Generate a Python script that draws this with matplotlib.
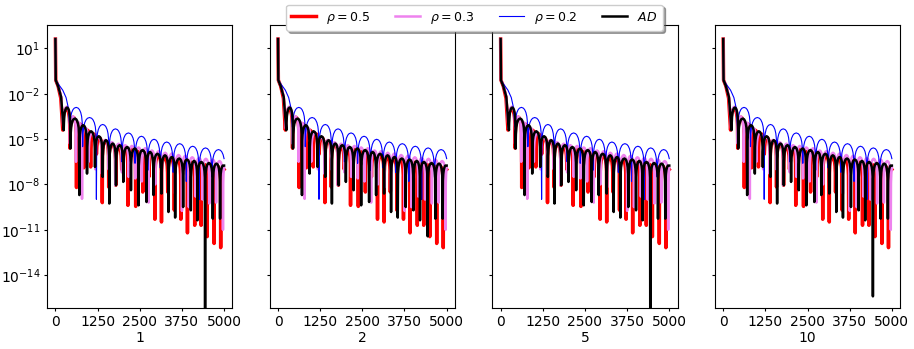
import numpy as np
import matplotlib.pyplot as plt
from matplotlib.ticker import NullLocator

panel_labels = ['1', '2', '5', '10']

# first two samples shared by every curve (log10 values)
x_start = [0, 10]
y_start = [1.62, -1.1]

# arch profile of one hump between two zero crossings (fraction, log10 drop)
arch_t = [0.03, 0.08, 0.15, 0.25, 0.35, 0.5, 0.65, 0.75, 0.85, 0.92, 0.97]
arch_drop = [-1.03, -0.60, -0.34, -0.15, -0.05, 0.0, -0.05, -0.15, -0.34, -0.60, -1.03]

# rho = 0.5 (log10 values)
red_lead_x = [80, 160]
red_lead_y = [-1.5, -2.3]
red_dip_x = [217, 430, 625, 840, 1045, 1215, 1390, 1580, 1790, 1965, 2150, 2380, 2590,
             2770, 2950, 3145, 3330, 3525, 3720, 3915, 4130, 4320, 4500, 4705, 4900]
red_dip_y = [-4.4, -5.6, -8.2, -6.9, -6.84, -6.0, -9.2, -8.17, -8.05, -7.0, -9.38, -9.45, -8.5,
             -7.5, -10.3, -10.48, -8.5, -9.7, -10.3, -11.2, -10.7, -10.7, -11.45, -11.9, -12.18]
red_peak = [-3.0, -3.55, -4.0, -4.4, -4.65, -4.9, -5.1, -5.35, -5.5, -5.6, -5.7, -5.82,
            -5.92, -6.0, -6.1, -6.2, -6.3, -6.38, -6.45, -6.52, -6.6, -6.66, -6.72, -6.78]
red_tail_x = [4906, 4916, 4929, 4949, 4968, 5000]
red_tail_y = [-8.03, -7.6, -7.34, -7.15, -7.05, -7.0]

# rho = 0.3
pink_lead_x = [80, 165]
pink_lead_y = [-1.45, -2.15]
pink_dip_x = [235, 430, 610, 789, 986, 1183, 1380, 1577, 1775, 1972, 2169, 2366, 2563,
              2761, 2958, 3155, 3352, 3550, 3752, 3955, 4158, 4360, 4562, 4764, 4968]
pink_dip_y = [-4.3, -5.3, -6.5, -8.95, -6.5, -7.0, -7.3, -7.0, -8.05, -7.2, -7.5, -7.6, -7.8,
              -9.2, -8.0, -8.2, -8.4, -8.6, -9.75, -9.5, -8.8, -9.0, -9.26, -9.2, -11.0]
pink_peak = [-2.85, -3.5, -3.9, -4.25, -4.6, -4.85, -5.05, -5.2, -5.3, -5.4, -5.45, -5.55,
             -5.6, -5.75, -5.8, -5.9, -5.95, -6.05, -6.1, -6.2, -6.25, -6.3, -6.35, -6.45]
pink_tail_x = [4974, 4984, 5000]
pink_tail_y = [-7.9, -7.3, -6.9]

# rho = 0.2
blue_lead_x = [100, 217, 316, 380]
blue_lead_y = [-1.4, -1.76, -2.25, -2.9]
blue_dip_x = [425, 808, 1215, 1590, 1970, 2360, 2740, 3110, 3490, 3880, 4260, 4640]
blue_dip_y = [-4.2, -5.5, -8.98, -6.3, -6.5, -6.6, -7.06, -6.9, -7.2, -7.8, -9.0, -7.5]
blue_peak = [-2.9, -3.57, -4.03, -4.32, -4.59, -4.81, -5.01, -5.19, -5.30, -5.47, -5.58]
blue_tail_x = [4652, 4671, 4698, 4737, 4776, 4835, 4894, 4933, 4972, 5000]
blue_tail_y = [-6.72, -6.29, -6.03, -5.84, -5.74, -5.69, -5.74, -5.84, -6.03, -6.29]

# AD
ad_lead_x = [80, 168]
ad_lead_y = [-1.5, -2.2]
ad_dip_x = [246, 444, 710, 937, 1174, 1400, 1598, 1796, 2012, 2240, 2465, 2701, 2908,
            3145, 3352, 3550, 3787, 4015, 4210, 4438, 4666, 4882]
ad_dip_y = [-4.41, -5.62, -8.7, -7.28, -6.84, -7.5, -9.26, -8.05, -7.83, -8.38, -9.38, -9.16,
            -8.7, -8.6, -9.82, -10.19, -9.49, -9.71, -10.37, -20.0, -10.26, -10.26]
ad_peak = [-2.91, -3.64, -4.08, -4.48, -4.81, -5.07, -5.29, -5.40, -5.52, -5.62, -5.72,
           -5.85, -5.97, -6.07, -6.18, -6.28, -6.35, -6.44, -6.51, -6.58, -6.62]
ad_tail_x = [4889, 4900, 4915, 4937, 4959, 5000]
ad_tail_y = [-7.73, -7.30, -7.04, -6.85, -6.75, -6.75]
# the deep AD dip near 4438 differs from panel to panel
ad_deep_idx = 19
ad_deep = [-20.0, -11.43, -20.0, -15.4]


def build(lead_x, lead_y, dip_x, dip_y, peak, tail_x, tail_y):
    xs = list(x_start) + list(lead_x)
    ys = list(y_start) + list(lead_y)
    for i in range(len(dip_x)):
        xs.append(dip_x[i])
        ys.append(dip_y[i])
        if i < len(peak):
            a, b = dip_x[i], dip_x[i + 1]
            for t, d in zip(arch_t, arch_drop):
                xs.append(a + t * (b - a))
                ys.append(peak[i] + d)
    xs += list(tail_x)
    ys += list(tail_y)
    return np.array(xs), 10.0 ** np.array(ys)


fig, axes = plt.subplots(1, 4, sharey=True, figsize=(9.14, 3.49), dpi=100)
fig.subplots_adjust(left=0.0514, right=0.985, top=0.928, bottom=0.1175, wspace=0.2)

for k, ax in enumerate(axes):
    dips = list(ad_dip_y)
    dips[ad_deep_idx] = ad_deep[k]
    l1, = ax.plot(*build(red_lead_x, red_lead_y, red_dip_x, red_dip_y, red_peak,
                         red_tail_x, red_tail_y), color='red', lw=2.5, label=r'$\rho=0.5$')
    l2, = ax.plot(*build(pink_lead_x, pink_lead_y, pink_dip_x, pink_dip_y, pink_peak,
                         pink_tail_x, pink_tail_y), color='violet', lw=1.8, label=r'$\rho=0.3$')
    l3, = ax.plot(*build(blue_lead_x, blue_lead_y, blue_dip_x, blue_dip_y, blue_peak,
                         blue_tail_x, blue_tail_y), color='blue', lw=0.8, label=r'$\rho=0.2$')
    l4, = ax.plot(*build(ad_lead_x, ad_lead_y, ad_dip_x, dips, ad_peak,
                         ad_tail_x, ad_tail_y), color='black', lw=1.8, label=r'$AD$')
    ax.set_yscale('log')
    ax.set_xlim(-250, 5250)
    ax.set_xticks([0, 1250, 2500, 3750, 5000])
    ax.tick_params(length=2.5, pad=2.2)
    ax.set_xlabel(panel_labels[k], labelpad=1.5)

axes[0].set_ylim(10 ** -16.17, 10 ** 2.54)
axes[0].set_yticks([1e1, 1e-2, 1e-5, 1e-8, 1e-11, 1e-14])
axes[0].yaxis.set_minor_locator(NullLocator())

fig.legend(handles=[l1, l2, l3, l4], loc='upper center', ncol=4, shadow=True,
           fontsize=9, bbox_to_anchor=(0.519, 1.005))

fig.savefig('out.png', dpi=100)
